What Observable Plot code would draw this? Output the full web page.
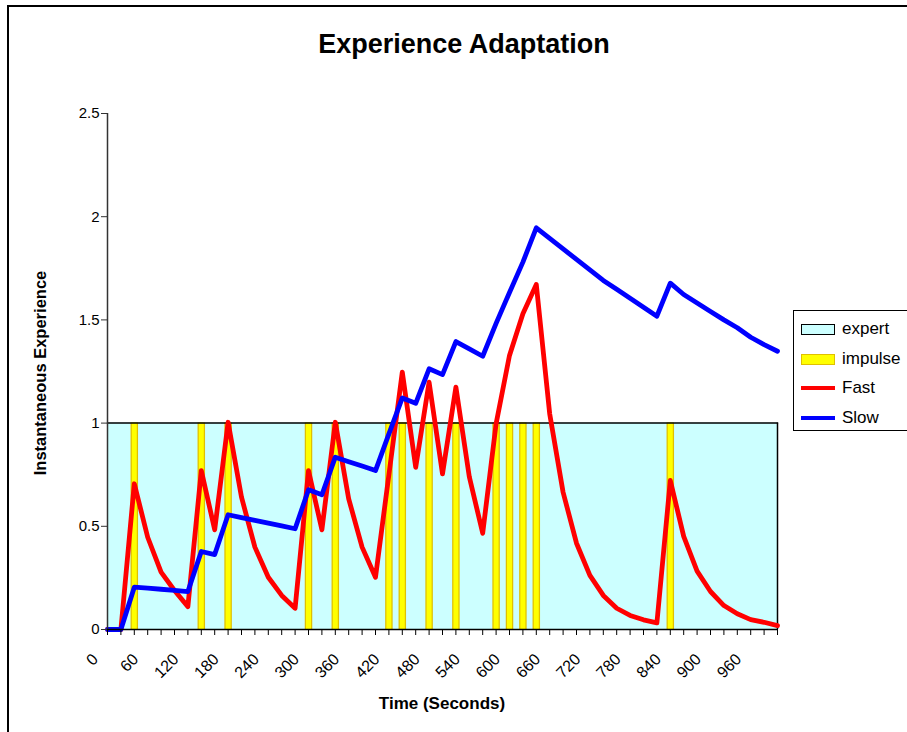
<!DOCTYPE html>
<html><head><meta charset="utf-8">
<script src="https://cdn.jsdelivr.net/npm/d3@7"></script>
<script src="https://cdn.jsdelivr.net/npm/@observablehq/plot@0.6"></script>
<style>
html,body{margin:0;padding:0;background:#fff;overflow:hidden;width:907px;height:732px;}
body{position:relative;font-family:"Liberation Sans",Arial,sans-serif;color:#000;}
#frame{position:absolute;left:7px;top:5px;width:1000px;height:1000px;border-left:2px solid #000;border-top:2px solid #000;box-sizing:border-box;}
#chart{position:absolute;left:0;top:0;}
#title{position:absolute;left:464px;top:29px;transform:translateX(-50%);font-weight:bold;font-size:27px;white-space:nowrap;}
#xlabel{position:absolute;left:442px;top:694px;transform:translateX(-50%);font-weight:bold;font-size:17px;white-space:nowrap;}
#ylabel{position:absolute;left:40px;top:373px;transform:translate(-50%,-50%) rotate(-90deg);font-weight:bold;font-size:16.5px;white-space:nowrap;}
#legend{position:absolute;left:793px;top:310px;width:200px;height:121px;border:1px solid #000;background:#fff;box-sizing:border-box;}
.row{position:absolute;left:7px;height:20px;display:flex;align-items:center;font-size:17px;white-space:nowrap;}
.sw{width:34px;margin-right:7px;box-sizing:border-box;}
</style>
</head><body>
<div id="frame"></div>
<div id="chart"></div>
<div id="title">Experience Adaptation</div>
<div id="xlabel">Time (Seconds)</div>
<div id="ylabel">Instantaneous Experience</div>
<div id="legend"></div>
<script>
// ---- data ----
const times = [0,20,40,60,80,100,120,140,160,180,200,220,240,260,280,300,320,340,360,380,400,420,440,460,480,500,520,540,560,580,600,620,640,660,680,700,720,740,760,780,800,820,840,860,880,900,920,940,960,980,1000];
const fast = [0,0,0.706,0.447,0.278,0.189,0.111,0.77,0.483,1.004,0.641,0.399,0.253,0.165,0.103,0.77,0.483,1.004,0.633,0.399,0.253,0.75,1.247,0.786,1.198,0.754,1.174,0.74,0.466,0.997,1.328,1.53,1.672,1.045,0.665,0.418,0.262,0.165,0.103,0.068,0.047,0.032,0.722,0.451,0.283,0.184,0.116,0.076,0.048,0.035,0.019];
const slow = [0,0,0.205,0.2,0.195,0.19,0.184,0.378,0.363,0.556,0.542,0.529,0.515,0.502,0.488,0.677,0.653,0.835,0.813,0.792,0.77,0.948,1.122,1.096,1.263,1.235,1.395,1.36,1.324,1.483,1.633,1.78,1.946,1.895,1.844,1.793,1.742,1.691,1.648,1.605,1.561,1.518,1.678,1.623,1.582,1.541,1.5,1.462,1.416,1.38,1.348];
const expertTimes = [0, 1000];
const expertValues = [1, 1];
const impulseTimes = [40,140,180,300,340,420,440,480,520,580,600,620,640,840];
const impulseValues = [1,1,1,1,1,1,1,1,1,1,1,1,1,1];
const xTickLabels = [0,60,120,180,240,300,360,420,480,540,600,660,720,780,840,900,960];
const yTicks = [0,0.5,1,1.5,2,2.5];
const seriesNames = ["expert","impulse","Fast","Slow"];

// ---- tables ----
const rows = times.map((t,i)=>({t, fast:fast[i], slow:slow[i]}));
const expertRows = expertTimes.map((t,i)=>({t, v:expertValues[i]}));
const impulseRows = impulseTimes.map((t,i)=>({t, v:impulseValues[i]}));

const font = '"Liberation Sans", Arial, sans-serif';
const chart = Plot.plot({
  width: 907, height: 732,
  marginLeft: 107, marginRight: 130, marginTop: 113, marginBottom: 103,
  x: {domain: [0, 1000]},
  y: {domain: [0, 2.5]},
  style: {fontFamily: font, fontSize: "15px", color: "#000", background: "transparent", overflow: "visible"},
  marks: [
    Plot.areaY(expertRows, {x: "t", y: "v", fill: "#CCFFFF"}),
    Plot.ruleX(impulseRows, {x: "t", y1: 0, y2: "v", stroke: "#E0C000", strokeWidth: 7.5}),
    Plot.ruleX(impulseRows, {x: "t", y1: 0, y2: "v", stroke: "#FFFF00", strokeWidth: 5}),
    Plot.lineY(expertRows, {x: "t", y: "v", stroke: "#000", strokeWidth: 1.5}),
    Plot.ruleX(expertRows.slice(-1), {x: "t", y1: 0, y2: "v", stroke: "#000", strokeWidth: 1.5}),
    Plot.lineY(rows, {x: "t", y: "fast", stroke: "#FF0000", strokeWidth: 4.8, curve: "linear"}),
    Plot.lineY(rows, {x: "t", y: "slow", stroke: "#0000FF", strokeWidth: 4.8, curve: "linear"}),
    Plot.axisY({ticks: yTicks, tickFormat: d => String(d), tickSize: 6, tickPadding: 2, label: null, stroke: "#333"}),
    Plot.ruleX([0], {y1: 0, y2: 2.5, stroke: "#333", strokeWidth: 1.5}),
    Plot.axisX({ticks: times, tickFormat: () => "", tickSize: 6, label: null, stroke: "#000"}),
    Plot.axisX({ticks: xTickLabels, tickFormat: d => String(d), tickSize: 0, tickRotate: -45, tickPadding: 27, dx: -12, label: null}),
    Plot.ruleY([0], {stroke: "#000", strokeWidth: 1.5})
  ]
});
document.getElementById("chart").appendChild(chart);
d3.select(chart).selectAll('g[aria-label="y-axis tick label"] text').style("font-size", "15px");
d3.select(chart).selectAll('g[aria-label="x-axis tick label"] text').style("font-size", "16px");
d3.select(chart).selectAll("text").style("font-family", font).attr("fill", "#000");

// ---- legend ----
const legend = document.getElementById("legend");
const swatchStyles = [
  "height:11px;background:#CCFFFF;border:1.5px solid #000;",
  "height:11px;background:#FFFF00;border:1.5px solid #E0C000;",
  "height:4px;background:#FF0000;",
  "height:4px;background:#0000FF;"
];
const rowTops = [8, 38, 67, 97];
seriesNames.forEach((name, i) => {
  const r = document.createElement("div");
  r.className = "row";
  r.style.top = rowTops[i] + "px";
  const sw = document.createElement("div");
  sw.className = "sw";
  sw.style.cssText += swatchStyles[i];
  const lab = document.createElement("span");
  lab.textContent = name;
  r.appendChild(sw); r.appendChild(lab);
  legend.appendChild(r);
});
</script>
</body></html>
